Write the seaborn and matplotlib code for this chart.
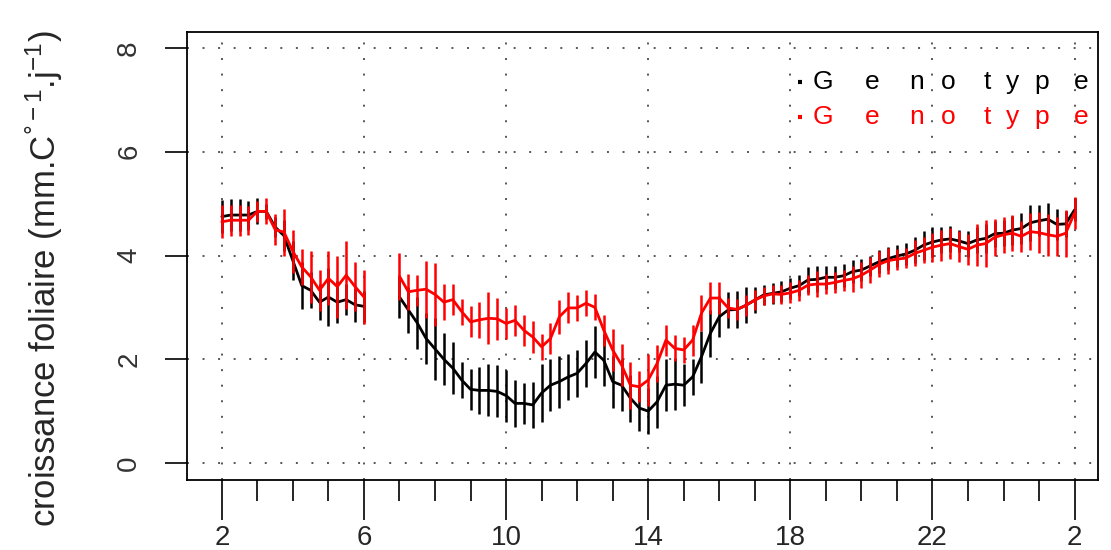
import numpy as np
import pandas as pd
import matplotlib
matplotlib.use("Agg")
import matplotlib.pyplot as plt
import seaborn as sns

# heures de mesure (pas de 15 min), nuit 2h-6h puis 7h-2h
heures_nuit = np.arange(2.0, 6.01, 0.25)
heures_jour = np.arange(7.0, 26.01, 0.25)

# genotype noir
noir_nuit = [4.75, 4.78, 4.78, 4.78, 4.85, 4.85, 4.55, 4.38, 3.9, 3.42, 3.33, 3.1, 3.2, 3.1, 3.15, 3.05, 3.02]
noir_nuit_err = [0.32, 0.3, 0.3, 0.28, 0.25, 0.15, 0.2, 0.3, 0.38, 0.45, 0.35, 0.35, 0.55, 0.4, 0.3, 0.33, 0.3]
noir_jour = [3.2, 2.95, 2.7, 2.4, 2.2, 2.0, 1.83, 1.6, 1.42, 1.4, 1.4, 1.38, 1.3, 1.15, 1.15, 1.12,
             1.35, 1.5, 1.57, 1.66, 1.73, 1.92, 2.14, 1.98, 1.57, 1.5, 1.25, 1.06, 1.0, 1.18, 1.5, 1.52,
             1.5, 1.66, 2.05, 2.5, 2.82, 2.95, 2.96, 3.04, 3.14, 3.24, 3.27, 3.3, 3.37, 3.42, 3.53, 3.54,
             3.58, 3.58, 3.61, 3.69, 3.72, 3.8, 3.88, 3.94, 3.99, 4.03, 4.1, 4.2, 4.26, 4.3, 4.32, 4.28,
             4.23, 4.3, 4.33, 4.42, 4.43, 4.49, 4.52, 4.63, 4.67, 4.7, 4.6, 4.61, 4.88]
noir_jour_err = [0.4, 0.45, 0.5, 0.5, 0.6, 0.5, 0.5, 0.35, 0.4, 0.45, 0.5, 0.5, 0.5, 0.45, 0.4, 0.45,
                 0.55, 0.5, 0.5, 0.45, 0.45, 0.45, 0.5, 0.5, 0.5, 0.5, 0.45, 0.45, 0.45, 0.5, 0.5, 0.5,
                 0.4, 0.35, 0.5, 0.45, 0.4, 0.35, 0.35, 0.35, 0.25, 0.2, 0.2, 0.2, 0.2, 0.2, 0.25, 0.25,
                 0.22, 0.22, 0.22, 0.22, 0.22, 0.2, 0.22, 0.22, 0.22, 0.22, 0.25, 0.28, 0.28, 0.25, 0.25, 0.22,
                 0.25, 0.25, 0.28, 0.25, 0.25, 0.28, 0.3, 0.35, 0.3, 0.32, 0.3, 0.25, 0.22]

# genotype rouge
rouge_nuit = [4.65, 4.68, 4.68, 4.68, 4.85, 4.85, 4.5, 4.45, 4.08, 3.78, 3.59, 3.33, 3.56, 3.4, 3.62, 3.4, 3.2]
rouge_nuit_err = [0.32, 0.3, 0.3, 0.28, 0.2, 0.25, 0.3, 0.45, 0.42, 0.35, 0.5, 0.4, 0.52, 0.6, 0.66, 0.47, 0.52]
rouge_jour = [3.6, 3.3, 3.33, 3.35, 3.25, 3.1, 3.15, 2.92, 2.72, 2.76, 2.79, 2.78, 2.69, 2.75, 2.56, 2.43,
              2.24, 2.4, 2.82, 2.99, 2.99, 3.08, 3.0, 2.56, 2.18, 1.89, 1.5, 1.47, 1.6, 1.92, 2.37, 2.21,
              2.18, 2.37, 2.89, 3.18, 3.18, 2.99, 2.96, 3.04, 3.14, 3.22, 3.26, 3.25, 3.28, 3.33, 3.43, 3.45,
              3.45, 3.48, 3.52, 3.55, 3.62, 3.72, 3.83, 3.9, 3.93, 3.95, 4.04, 4.1, 4.16, 4.2, 4.23, 4.17,
              4.12, 4.2, 4.23, 4.35, 4.4, 4.43, 4.37, 4.46, 4.44, 4.4, 4.37, 4.43, 4.82]
rouge_jour_err = [0.45, 0.35, 0.3, 0.55, 0.6, 0.35, 0.3, 0.25, 0.3, 0.35, 0.5, 0.4, 0.3, 0.3, 0.3, 0.3,
                  0.25, 0.3, 0.33, 0.3, 0.25, 0.25, 0.25, 0.3, 0.4, 0.4, 0.45, 0.3, 0.5, 0.35, 0.3, 0.25,
                  0.25, 0.3, 0.35, 0.3, 0.3, 0.2, 0.2, 0.2, 0.2, 0.18, 0.18, 0.18, 0.2, 0.2, 0.2, 0.25,
                  0.2, 0.2, 0.2, 0.25, 0.25, 0.25, 0.25, 0.25, 0.2, 0.2, 0.25, 0.25, 0.28, 0.3, 0.3, 0.3,
                  0.3, 0.4, 0.45, 0.35, 0.35, 0.35, 0.3, 0.35, 0.4, 0.4, 0.38, 0.45, 0.3]

x_ticks = [2, 6, 10, 14, 18, 22, 26]
x_labels = ['2', '6', '10', '14', '18', '22', '2']
y_ticks = [0, 2, 4, 6, 8]
legende = 'Genotype'
lettres_x = [0.698, 0.753, 0.801, 0.836, 0.879, 0.907, 0.939, 0.982]


def tableau(nom, nuit, nuit_err, jour, jour_err):
    a = pd.DataFrame({'heure': heures_nuit, 'croissance': nuit, 'err': nuit_err, 'segment': 0})
    b = pd.DataFrame({'heure': heures_jour, 'croissance': jour, 'err': jour_err, 'segment': 1})
    d = pd.concat([a, b], ignore_index=True)
    d['genotype'] = nom
    return d


df = pd.concat([tableau('noir', noir_nuit, noir_nuit_err, noir_jour, noir_jour_err),
                tableau('rouge', rouge_nuit, rouge_nuit_err, rouge_jour, rouge_jour_err)],
               ignore_index=True)
couleurs = {'noir': 'black', 'rouge': 'red'}

sns.set_style('white')
plt.rcParams['font.family'] = ['Liberation Sans', 'DejaVu Sans']
plt.rcParams['mathtext.fontset'] = 'custom'
plt.rcParams['mathtext.rm'] = 'Liberation Sans'
plt.rcParams['mathtext.it'] = 'Liberation Sans'

fig = plt.figure(figsize=(11.11, 5.5), dpi=100)
ax = fig.add_axes([0.168, 0.127, 0.82, 0.815])

for g in ['noir', 'rouge']:
    d = df[df['genotype'] == g]
    sns.lineplot(data=d, x='heure', y='croissance', units='segment', estimator=None,
                 color=couleurs[g], lw=2, ax=ax, legend=False)
    ax.vlines(d['heure'], d['croissance'] - d['err'], d['croissance'] + d['err'],
              colors=couleurs[g], lw=1.8)

ax.set_xlim(1.01, 26.65)
ax.set_ylim(-0.33, 8.31)
ax.set_xticks(x_ticks)
ax.set_xticklabels(x_labels)
ax.set_xticks(np.arange(3, 26, 1), minor=True)
ax.set_yticks(y_ticks)
ax.set_yticklabels([str(v) for v in y_ticks], rotation=90, va='center', color='#333333')

ax.tick_params(axis='x', which='both', bottom=True, direction='out', width=1.2, color='black')
ax.tick_params(axis='x', which='major', length=29, labelsize=20, pad=3)
ax.tick_params(axis='x', which='minor', length=15)
ax.tick_params(axis='y', which='major', left=True, direction='out', length=16, width=1.2,
               color='black', labelsize=20, pad=16)
ax.grid(True, which='major', linestyle=(0, (1, 7)), color='#555555', lw=1.4)

for s in ax.spines.values():
    s.set_visible(True)
    s.set_color('black')
    s.set_linewidth(1.3)

ax.set_xlabel('')
ax.set_ylabel(r'croissance foliaire (mm.C$^{\mathrm{°-1}}$.j$^{\mathrm{-1}}$)', fontsize=25)
ax.yaxis.set_label_coords(-0.134, 0.45)

# legende
for g, yy in [('noir', 0.889), ('rouge', 0.811)]:
    ax.plot([0.671, 0.675], [yy, yy], color=couleurs[g], lw=3, transform=ax.transAxes, solid_capstyle='butt')
    for lettre, xx in zip(legende, lettres_x):
        ax.text(xx, yy, lettre, transform=ax.transAxes, ha='center', va='center',
                fontsize=19, color=couleurs[g])

fig.savefig('out.png', dpi=100)
